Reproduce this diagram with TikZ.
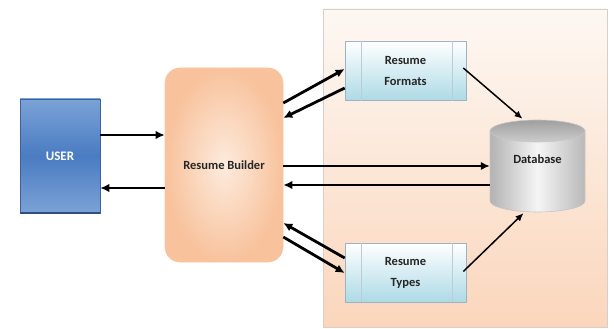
\documentclass[tikz,border=0pt]{standalone}
\usepackage{fontspec}
\setmainfont{Carlito}
\usetikzlibrary{arrows.meta,calc}
\definecolor{userA}{HTML}{7BA2D6}
\definecolor{userB}{HTML}{4A7CC2}
\definecolor{userEdge}{HTML}{2E4E80}
\definecolor{peachA}{HTML}{FDEBDD}
\definecolor{peachB}{HTML}{F8C29C}
\definecolor{panelTop}{HTML}{FDF8F3}
\definecolor{panelBot}{HTML}{FBD6BC}
\definecolor{panelEdge}{HTML}{D9CFC8}
\definecolor{boxBot}{HTML}{ADDAE6}
\definecolor{boxEdge}{HTML}{9DB3C2}
\definecolor{boxLine}{HTML}{BCCBD4}
\definecolor{txt}{HTML}{262626}
\begin{document}
\begin{tikzpicture}[x=1pt,y=-1pt,
  lbl/.style={font=\bfseries\fontsize{12.5}{21}\selectfont, text=txt, align=center},
  procbox/.style={draw=boxEdge, line width=0.6pt, top color=white, bottom color=boxBot,
     minimum width=121pt, minimum height=59pt, inner sep=0pt, lbl},
  thk/.style={line width=2.8pt, -{Latex[length=9pt,width=8.5pt]}},
  thn/.style={line width=1.5pt, -{Latex[length=8pt,width=7pt]}}]
\useasboundingbox (0,0) rectangle (614,329);
% panel
\node[draw=panelEdge, line width=0.6pt, top color=panelTop, bottom color=panelBot,
      minimum width=284pt, minimum height=318pt, inner sep=0pt] (panel) at (465,168) {};
% user
\node[shading=axis, top color=userA, bottom color=userA, middle color=userB,
      draw=userB!80!black, line width=0.5pt,
      minimum width=80pt, minimum height=114pt, inner sep=0pt,
      font=\bfseries\fontsize{13}{15}\selectfont, text=white] (user) at (60,156) {USER};
\draw[userEdge, line width=2pt] (user.south west) -- (user.south east);
% builder
\node[rounded corners=15pt, inner color=peachA, outer color=peachB, draw=peachB!90!white,
      line width=0.6pt, minimum width=118pt, minimum height=194pt, inner sep=0pt, lbl]
      (builder) at (224,165) {Resume Builder};
% formats and types
\node[procbox] (fmt) at (405.5,71) {Resume\\Formats};
\node[procbox] (types) at (405.5,272.5) {Resume\\Types};
\foreach \b in {fmt,types}{
  \draw[boxLine, line width=0.6pt] ($(\b.north west)+(17,0)$) -- ($(\b.south west)+(17,0)$);
  \draw[boxLine, line width=0.6pt] ($(\b.north east)+(-14,0)$) -- ($(\b.south east)+(-14,0)$);
}
% database
\node[minimum width=95pt, minimum height=92pt, inner sep=0pt] (db) at (537.5,166) {};
\shade[shading=axis, left color=gray!60, right color=gray!55, middle color=gray!8,
  draw=gray!45, line width=0.6pt]
  (490,131) -- (490,201) arc[start angle=180, end angle=0, x radius=47.5, y radius=11]
  -- (585,131) -- cycle;
\shade[top color=gray!75, bottom color=gray!40, draw=gray!45, line width=0.6pt]
  (537.5,131) ellipse [x radius=47.5, y radius=11];
\node[lbl, text=gray!25!black] (dbt) at (537.5,159) {Database};
% connectors
\draw[thk] (user.east |- 0,135) -- (builder.west |- 0,135);
\draw[thk] (builder.west |- 0,188) -- (user.east |- 0,188);
\draw[thk] (builder.east |- 0,103) -- (fmt.west |- 0,69);
\draw[thk] (fmt.west |- 0,88) -- (builder.east |- 0,118);
\draw[thk] (builder.east |- 0,166) -- (db.west |- 0,166);
\draw[thk] (db.west |- 0,185) -- (builder.east |- 0,185);
\draw[thk] (types.west |- 0,258) -- (builder.east |- 0,223);
\draw[thk] (builder.east |- 0,237) -- (types.west |- 0,273);
\draw[thn] ($(fmt.east)+(-3,-3)$) -- ($(db.north)+(-15,-1)$);
\draw[thn] ($(types.east)+(-3,-1)$) -- ($(db.south)+(-14,1)$);
\end{tikzpicture}
\end{document}
